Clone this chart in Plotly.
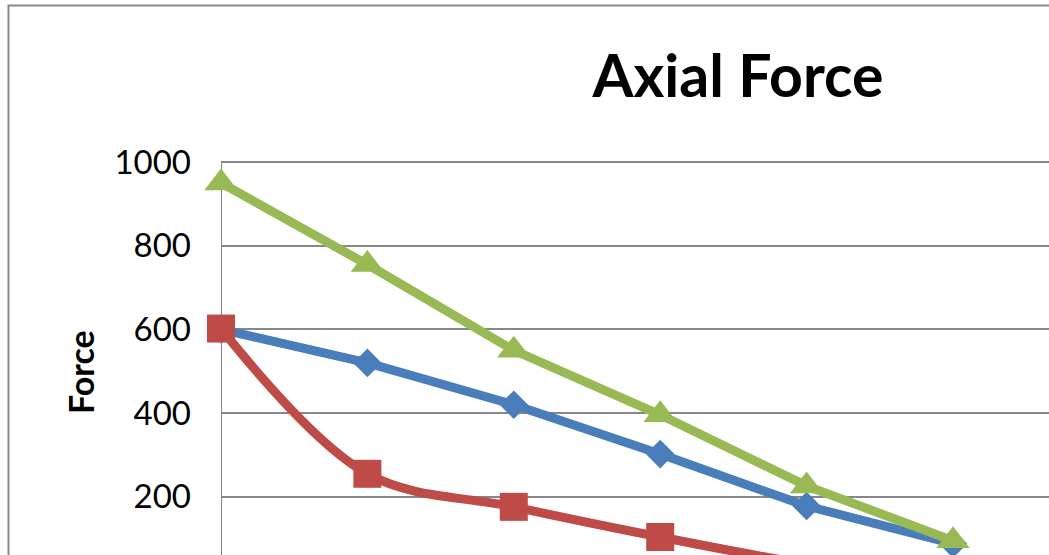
import plotly.graph_objects as go

# ---- data ----
categories = [0, 1, 2, 3, 4, 5]
series_blue = [600, 520, 420, 302, 178, 88]
series_red = [602, 255, 176, 104, 40, 0]
series_green = [950, 755, 550, 396, 226, 95]
y_ticks = [200, 400, 600, 800, 1000]

title_text = "Axial Force"
y_title = "Force"

BLUE = "#4A7EBB"
RED = "#BE4B48"
GREEN = "#98B954"
GRID = "#878787"
FONT = "Lato"

W, H = 1049, 555
L, T = 221, 160
px_per_unit = 83.7 / 200.0
px_per_cat = 146.4
plot_w = W - L
plot_h = H - T

fig = go.Figure()
fig.add_trace(go.Scatter(
    x=categories, y=series_blue, mode="lines+markers",
    line=dict(color=BLUE, width=9),
    marker=dict(symbol="diamond", size=22, color=BLUE, line=dict(width=0)),
    cliponaxis=False, showlegend=False))
fig.add_trace(go.Scatter(
    x=categories, y=series_red, mode="lines+markers",
    line=dict(color=RED, width=9, shape="spline", smoothing=1.0),
    marker=dict(symbol="square", size=28, color=RED, line=dict(width=0)),
    cliponaxis=False, showlegend=False))
fig.add_trace(go.Scatter(
    x=categories, y=series_green, mode="lines+markers",
    line=dict(color=GREEN, width=9),
    marker=dict(symbol="triangle-up", size=29, color=GREEN, line=dict(width=0)),
    cliponaxis=False, showlegend=False))

# 1000 sits at pixel 162, plot top at pixel T
y_top = 1000 + (162 - T) / px_per_unit
y_bottom = y_top - plot_h / px_per_unit
x_right = plot_w / px_per_cat

fig.update_layout(
    width=W, height=H,
    margin=dict(l=L, r=0, t=T, b=0, pad=0),
    paper_bgcolor="white", plot_bgcolor="white",
    font=dict(family=FONT, color="black"),
    title=dict(text="<b>" + title_text + "</b>", xref="container", yref="container",
               x=738 / W, y=1 - 76 / H, xanchor="center", yanchor="middle",
               font=dict(family=FONT, size=59, color="black")),
    xaxis=dict(range=[0, x_right], showgrid=False, zeroline=False, showline=False,
               showticklabels=False, ticks=""),
    yaxis=dict(range=[y_bottom, y_top], tickvals=y_ticks,
               ticktext=[str(v) for v in y_ticks],
               showgrid=True, gridcolor=GRID, gridwidth=2, zeroline=False,
               showline=False, ticks="",
               ticklabelstandoff=29,
               tickfont=dict(family=FONT, size=33, color="black")),
    annotations=[dict(text="<b>" + y_title + "</b>", xref="paper", yref="paper",
                      x=(80 - L) / plot_w, y=1 - (372 - T) / plot_h,
                      xanchor="center", yanchor="middle", textangle=-90,
                      showarrow=False, font=dict(family=FONT, size=34, color="black"))],
    shapes=[
        dict(type="rect", xref="paper", yref="paper",
             x0=(8.5 - L) / plot_w, x1=1.3, y0=-0.3, y1=1 + (T - 5.5) / plot_h,
             line=dict(color=GRID, width=2), fillcolor="rgba(0,0,0,0)", layer="below"),
        dict(type="line", xref="x", yref="y", x0=0, x1=0, y0=y_bottom - 50, y1=1000,
             line=dict(color=GRID, width=2), layer="below"),
    ],
)

fig.write_html("out.html")
